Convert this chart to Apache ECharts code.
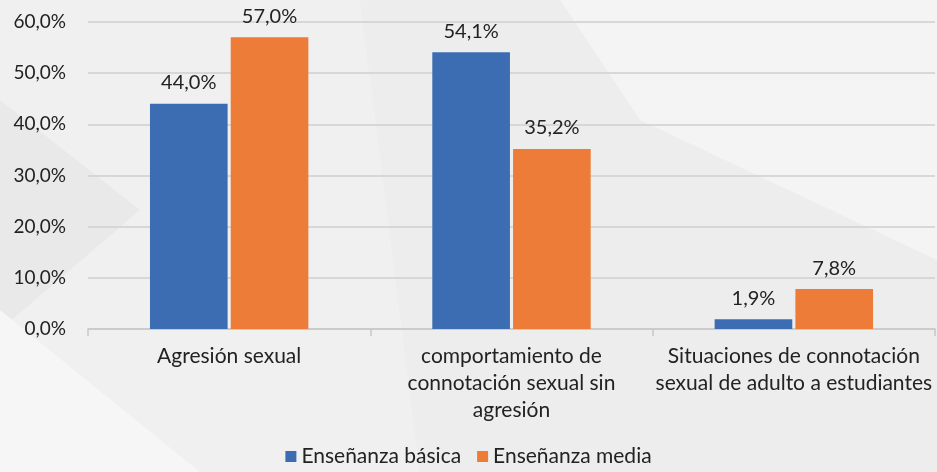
<!DOCTYPE html>
<html lang="es">
<head>
    <meta charset="UTF-8">
    <title>Situaciones por nivel de enseñanza</title>
    <style>
        html, body { margin: 0; padding: 0; }
        #chart { width: 937px; height: 472px; }
    </style>
</head>
<body>
    <div id="chart"></div>
    <script src="https://cdn.jsdelivr.net/npm/echarts@6/dist/echarts.min.js"></script>
    <script>
        const categories = [
            'Agresión sexual',
            'comportamiento de\nconnotación sexual sin\nagresión',
            'Situaciones de connotación\nsexual de adulto a estudiantes'
        ];
        const seriesNames = ['Enseñanza básica', 'Enseñanza media'];
        const basica = [44.0, 54.1, 1.9];
        const media = [57.0, 35.2, 7.8];
        const yTicks = [0, 10, 20, 30, 40, 50, 60];

        const fmt = v => v.toFixed(1).replace('.', ',') + '%';
        const font = 'Lato, "Open Sans", sans-serif';

        const chart = echarts.init(document.getElementById('chart'));
        chart.setOption({
            backgroundColor: '#ededed',
            graphic: [
                // soft background shapes
                { type: 'polygon', silent: true, z: -10, shape: { points: [[0, 0], [360, 0], [420, 472], [0, 472]] }, style: { fill: '#f0f0f0' } },
                { type: 'polygon', silent: true, z: -9, shape: { points: [[0, 100], [140, 210], [0, 330]] }, style: { fill: '#e9e9e9' } },
                { type: 'polygon', silent: true, z: -9, shape: { points: [[0, 310], [200, 472], [0, 472]] }, style: { fill: '#f6f6f6' } },
                { type: 'polygon', silent: true, z: -9, shape: { points: [[560, 0], [937, 0], [937, 260], [640, 120]] }, style: { fill: '#f4f4f4' } }
            ],
            textStyle: { fontFamily: font },
            grid: { left: 88, right: 2, top: 22, bottom: 143 },
            legend: {
                data: seriesNames,
                bottom: 0,
                left: 'center',
                itemWidth: 11,
                itemHeight: 11,
                itemGap: 16,
                icon: 'rect',
                textStyle: { fontSize: 21, color: '#222', fontFamily: font }
            },
            xAxis: {
                type: 'category',
                data: categories,
                axisLine: { lineStyle: { color: '#c8c8c8', width: 1.5 } },
                axisTick: { show: true, length: 7, lineStyle: { color: '#c8c8c8', width: 1.5 } },
                axisLabel: { fontSize: 21, color: '#222', lineHeight: 27, margin: 14, interval: 0, fontFamily: font }
            },
            yAxis: {
                type: 'value',
                min: 0,
                max: 60,
                interval: 10,
                axisLine: { show: false },
                axisTick: { show: false },
                splitLine: { lineStyle: { color: '#cfcfcf', width: 1.5 } },
                axisLabel: {
                    fontSize: 19,
                    color: '#222',
                    margin: 22,
                    fontFamily: font,
                    formatter: v => yTicks.includes(v) ? fmt(v) : ''
                }
            },
            series: [
                {
                    name: seriesNames[0],
                    type: 'bar',
                    data: basica,
                    barWidth: '27.5%',
                    barGap: '4%',
                    itemStyle: { color: '#3c6db3' },
                    label: { show: true, position: 'top', distance: 11, fontSize: 20, color: '#222', fontFamily: font, formatter: p => fmt(p.value) }
                },
                {
                    name: seriesNames[1],
                    type: 'bar',
                    data: media,
                    barWidth: '27.5%',
                    itemStyle: { color: '#ec7c38' },
                    label: { show: true, position: 'top', distance: 11, fontSize: 20, color: '#222', fontFamily: font, formatter: p => fmt(p.value) }
                }
            ]
        });
    </script>
</body>
</html>
